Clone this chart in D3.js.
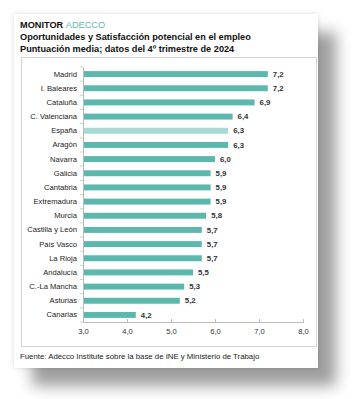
<!DOCTYPE html>
<html><head><meta charset="utf-8">
<script src="https://cdn.jsdelivr.net/npm/d3@7"></script>
<style>
html,body{margin:0;padding:0;background:#fff;width:356px;height:399px;overflow:hidden;}
#card{position:absolute;left:14px;top:14px;width:304px;height:354px;background:#fff;
box-shadow:18px 18px 14px rgba(0,0,0,0.38),0 0 5px rgba(0,0,0,0.14);}
svg{position:absolute;left:0;top:0;}
text{font-family:"Liberation Sans",Arial,sans-serif;}
</style></head><body>
<div id="card"></div>
<svg id="chart" width="356" height="399"></svg>
<script>
const categories = ["Madrid","I. Baleares","Cataluña","C. Valenciana","España","Aragón","Navarra","Galicia","Cantabria","Extremadura","Murcia","Castilla y León","País Vasco","La Rioja","Andalucía","C.-La Mancha","Asturias","Canarias"];
const values = [7.2,7.2,6.9,6.4,6.3,6.3,6.0,5.9,5.9,5.9,5.8,5.7,5.7,5.7,5.5,5.3,5.2,4.2];
const highlight = ["España"];
const tickValues = [3,4,5,6,7,8];
const titleLines = ["Oportunidades y Satisfacción potencial en el empleo","Puntuación media; datos del 4º trimestre de 2024"];
const source = "Fuente: Adecco Institute sobre la base de INE y Ministerio de Trabajo";

const svg = d3.select("#chart");
const fmt = v => d3.format(".1f")(v).replace(".", ",");

// titles
const t0 = svg.append("text").attr("x",20).attr("y",28).attr("font-size",9.2).attr("font-weight","bold").attr("fill","#111");
t0.append("tspan").text("MONITOR ");
t0.append("tspan").attr("fill","#5cbcb0").attr("font-weight","normal").text("ADECCO");
svg.selectAll("text.tl").data(titleLines).join("text").attr("class","tl")
  .attr("x",20).attr("y",(d,i)=>40+i*11.5).attr("font-size",9.2).attr("font-weight","bold").attr("fill","#111").text(d=>d);

// plot box
svg.append("rect").attr("x",21.5).attr("y",57.5).attr("width",295).attr("height",289)
  .attr("fill","none").attr("stroke","#d4d4d4");

const x = d3.scaleLinear().domain([3,8]).range([83,303]);
const y = d3.scaleBand().domain(categories).range([67,322]).paddingInner(0.58).paddingOuter(0.29);

// bars
svg.selectAll("rect.bar").data(categories).join("rect").attr("class","bar")
  .attr("x",x(3)).attr("y",d=>y(d)).attr("height",y.bandwidth())
  .attr("width",(d,i)=>x(values[i])-x(3))
  .attr("fill",d=>highlight.includes(d)?"#a8dad3":"#5cb8ad");

// value labels
svg.selectAll("text.val").data(categories).join("text").attr("class","val")
  .attr("x",(d,i)=>x(values[i])+5).attr("y",d=>y(d)+y.bandwidth()/2).attr("dy","0.35em")
  .attr("font-size",7.8).attr("font-weight","bold").attr("fill","#333").text((d,i)=>fmt(values[i]));

// y axis
const ya = svg.append("g").attr("transform",`translate(${x(3)},0)`)
  .call(d3.axisLeft(y).tickSize(0).tickPadding(6));
ya.select(".domain").attr("stroke","#bbb");
ya.selectAll("text").attr("font-size",7.6).attr("fill","#222").attr("font-family","Liberation Sans, Arial, sans-serif");
// boundary ticks
const step = y.step();
svg.append("g").selectAll("line").data(d3.range(categories.length+1)).join("line")
  .attr("x1",x(3)-3).attr("x2",x(3))
  .attr("y1",i=>y(categories[0]) - (step-y.bandwidth())/2 + i*step)
  .attr("y2",i=>y(categories[0]) - (step-y.bandwidth())/2 + i*step)
  .attr("stroke","#ccc");

// x axis
const xa = svg.append("g").attr("transform","translate(0,322)")
  .call(d3.axisBottom(x).tickValues(tickValues).tickFormat(fmt).tickSize(-3).tickPadding(7));
xa.select(".domain").attr("stroke","#bbb");
xa.selectAll(".tick line").attr("stroke","#bbb");
xa.selectAll("text").attr("font-size",7.6).attr("fill","#333").attr("font-family","Liberation Sans, Arial, sans-serif");

// source
svg.append("text").attr("x",20).attr("y",359).attr("font-size",7.8).attr("fill","#222").text(source);
</script>
</body></html>
